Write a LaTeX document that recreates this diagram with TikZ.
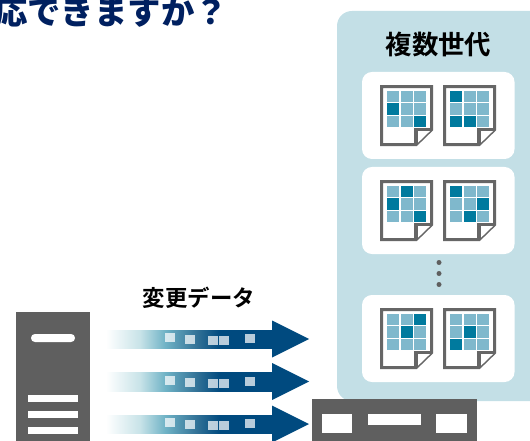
\documentclass[tikz,border=0pt]{standalone}
\usepackage{fontspec}
\setmainfont{Noto Sans CJK JP}
\newfontfamily\jpbold{Noto Sans CJK JP Bold}
\newfontfamily\jpblack{Noto Sans CJK JP Black}
\usetikzlibrary{calc}
\definecolor{panelc}{HTML}{C3DFE6}
\definecolor{greyc}{HTML}{5F5F5F}
\definecolor{docc}{HTML}{666666}
\definecolor{lightc}{HTML}{7FB8CC}
\definecolor{darkc}{HTML}{007A9E}
\definecolor{navyc}{HTML}{004A7F}
\definecolor{titlec}{HTML}{002060}
\definecolor{paleflow}{HTML}{C8E3E8}
\definecolor{tealflow}{HTML}{70B3C6}
\definecolor{midflow}{HTML}{2F6F95}
\tikzset{
  x=1bp,y=-1bp,
  cellbox/.style={fill=lightc,draw=none},
  darkbox/.style={fill=darkc,draw=none},
  cardbox/.style={fill=white,rounded corners=10pt,draw=none},
  holebox/.style={fill=white,draw=none},
  bitbox/.style={fill=white,fill opacity=.72,draw=none},
  docline/.style={draw=docc,line width=3.2pt,line join=miter,fill=white}
}
% #1 x, #2 y, #3 list of dark cells as column/row
\newcommand{\docicon}[3]{
  \begin{scope}[shift={(#1,#2)}]
    \draw[docline] (1.6,1.6) -- (51.6,1.6) -- (51.6,44.5) -- (36,59.6) -- (1.6,59.6) -- cycle;
    \draw[docline,fill=white] (36,59.6) -- (36,44.5) -- (51.6,44.5);
    \foreach \cx in {0,1,2}\foreach \cy in {0,1,2}
      \fill[cellbox] ({7+13.5*\cx},{6+12.45*\cy}) rectangle ++(12.4,11.1);
    \foreach \cx/\cy in {#3}
      \fill[darkbox] ({7+13.5*\cx},{6+12.45*\cy}) rectangle ++(12.4,11.1);
  \end{scope}}
% #1 y offset of head and bits, #2 shaft top, #3 shaft bottom
\newcommand{\flowarrow}[3]{
  \shade[left color=white,right color=paleflow] (106,#2) rectangle (140,#3);
  \shade[left color=paleflow,right color=tealflow] (140,#2) rectangle (165,#3);
  \shade[left color=tealflow,right color=midflow] (165,#2) rectangle (198,#3);
  \shade[left color=midflow,right color=navyc] (198,#2) rectangle (220,#3);
  \shade[left color=navyc,right color=navyc] (220,#2) rectangle (273,#3);
  \fill[navyc] (272,320.5+#1) -- (309,339+#1) -- (272,357.5+#1) -- cycle;
  \begin{scope}[shift={(0,#1)}]
    \fill[bitbox] (165,333) rectangle (175,342);
    \fill[bitbox] (185,335) rectangle (195,344);
    \fill[bitbox] (208,336) rectangle (218,345);
    \fill[bitbox] (219,336) rectangle (229,345);
    \fill[bitbox] (245,334) rectangle (255,343);
  \end{scope}}
\begin{document}
\begin{tikzpicture}
\useasboundingbox (0,0) rectangle (530,441);
\clip (0,0) rectangle (530,441);
% title
\node[anchor=base east,inner sep=0pt,text=titlec,font=\jpblack\fontsize{33.5}{34}\selectfont] (title) at (228,25) {応できますか？};
% panel
\fill[panelc,rounded corners=15pt] (337,11) rectangle (560,401);
\node[anchor=center,inner sep=0pt,font=\jpbold\fontsize{26.5}{28}\selectfont] (gen) at (438.5,45) {複数世代};
\fill[cardbox] (362,72) rectangle (514.5,159);
\fill[cardbox] (362,167) rectangle (514.5,254);
\fill[cardbox] (362,295) rectangle (514.5,382);
\docicon{380}{85}{0/1,2/2}
\docicon{443}{85}{0/0,0/2,1/2}
\docicon{380}{180}{1/0,0/1,2/2}
\docicon{443}{180}{0/0,2/1,1/2}
\docicon{380}{308}{2/0,1/1}
\docicon{443}{308}{1/1,0/2}
\foreach \dy in {262.5,273.5,284.5}
  \fill[greyc] (439,\dy) circle (2.5);
% label
\node[anchor=center,inner sep=0pt,font=\jpbold\fontsize{22.5}{24}\selectfont] (chg) at (199,298) {変更データ};
% server
\fill[greyc] (15.5,312) rectangle (90,441);
\fill[white,rounded corners=3.9pt] (31,334) rectangle (75,342);
\fill[holebox] (28,394.5) rectangle (78,402);
\fill[holebox] (28,411) rectangle (78,418);
\fill[holebox] (28,427) rectangle (78,434);
% arrows
\flowarrow{0}{330}{348}
\flowarrow{42.5}{372}{391}
\flowarrow{85}{415}{433}
% storage
\fill[greyc] (312,399) rectangle (476.5,441);
\fill[holebox] (322,414) rectangle (352,433);
\fill[holebox] (368,414) rectangle (421,425);
\fill[holebox] (436,414) rectangle (466.5,433);
\end{tikzpicture}
\end{document}
